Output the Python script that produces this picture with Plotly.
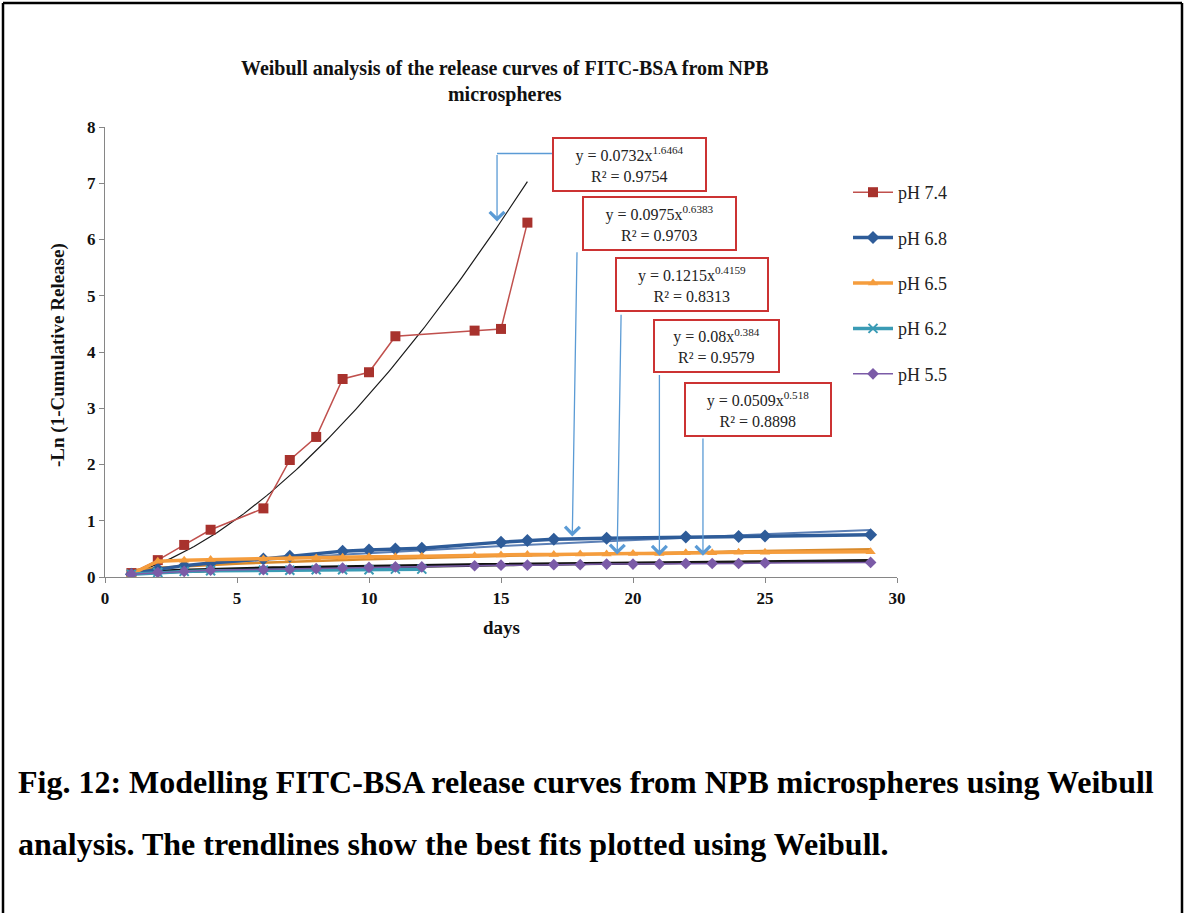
import plotly.graph_objects as go

# ---------------- data ----------------
days_74 = [1, 2, 3, 4, 6, 7, 8, 9, 10, 11, 14, 15, 16]
vals_74 = [0.07, 0.30, 0.57, 0.84, 1.22, 2.08, 2.49, 3.52, 3.64, 4.28, 4.38, 4.41, 6.30]

days_68 = [1, 2, 3, 4, 6, 7, 9, 10, 11, 12, 15, 16, 17, 19, 22, 24, 25, 29]
vals_68 = [0.05, 0.14, 0.20, 0.25, 0.32, 0.37, 0.46, 0.48, 0.50, 0.51, 0.62, 0.65, 0.67, 0.69, 0.71, 0.72, 0.73, 0.75]

days_65 = [1, 2, 3, 4, 6, 7, 8, 9, 10, 11, 12, 14, 15, 16, 17, 18, 19, 20, 21, 22, 23, 24, 25, 29]
vals_65 = [0.05, 0.28, 0.30, 0.31, 0.32, 0.33, 0.34, 0.35, 0.36, 0.36, 0.37, 0.38, 0.39, 0.40, 0.40, 0.41,
           0.41, 0.42, 0.42, 0.43, 0.43, 0.44, 0.44, 0.45]

days_62 = [1, 2, 3, 4, 6, 7, 8, 9, 10, 11, 12]
vals_62 = [0.05, 0.08, 0.10, 0.11, 0.12, 0.12, 0.13, 0.13, 0.13, 0.14, 0.14]

days_55 = [1, 2, 3, 4, 6, 7, 8, 9, 10, 11, 12, 14, 15, 16, 17, 18, 19, 20, 21, 22, 23, 24, 25, 29]
vals_55 = [0.05, 0.08, 0.10, 0.12, 0.13, 0.14, 0.15, 0.16, 0.17, 0.18, 0.18, 0.20, 0.21, 0.21, 0.22, 0.22,
           0.23, 0.23, 0.23, 0.24, 0.24, 0.24, 0.25, 0.26]

series_names = ["pH 7.4", "pH 6.8", "pH 6.5", "pH 6.2", "pH 5.5"]

# Weibull (power) trendline coefficients shown on the chart: y = a * x^b
fit_a = [0.0732, 0.0975, 0.1215, 0.08, 0.0509]
fit_b = [1.6464, 0.6383, 0.4159, 0.384, 0.518]
fit_r2 = ["0.9754", "0.9703", "0.8313", "0.9579", "0.8898"]
fit_a_txt = ["0.0732", "0.0975", "0.1215", "0.08", "0.0509"]
fit_b_txt = ["1.6464", "0.6383", "0.4159", "0.384", "0.518"]
fit_end = [16, 29, 29, 29, 29]

x_ticks = [0, 5, 10, 15, 20, 25, 30]
y_ticks = [0, 1, 2, 3, 4, 5, 6, 7, 8]

# ---------------- layout constants ----------------
W, H = 1185, 913
L, R, T, B = 105, 288, 127, 336
PW, PH = W - L - R, H - T - B
SERIF = "Liberation Serif"


def px(xp):
    return (xp - L) / PW


def py(yp):
    return (H - B - yp) / PH


fig = go.Figure()

data_sets = [(days_74, vals_74), (days_68, vals_68), (days_65, vals_65), (days_62, vals_62), (days_55, vals_55)]
line_cols = ["#C0504D", "#2E5C99", "#F59D3D", "#3A9BB5", "#7B5BA7"]
mk_cols = ["#A8322D", "#2E5C99", "#F59D3D", "#3A9BB5", "#7B5BA7"]
symbols = ["square", "diamond", "triangle-up", "x-thin", "diamond"]
msizes = [10, 10, 9, 9, 9]
lwidths = [1.5, 3.5, 3.5, 3.5, 1.5]
trend_cols = ["#1a1a1a", "#5B7FB5", "#D98A2B", "#111111", "#202020"]
trend_w = [1.2, 2.0, 2.5, 3.0, 2.0]

# trendlines
for i in range(5):
    n = 120
    xs = [1 + (fit_end[i] - 1) * k / n for k in range(n + 1)]
    ys = [fit_a[i] * x ** fit_b[i] for x in xs]
    fig.add_trace(go.Scatter(x=xs, y=ys, mode="lines", showlegend=False, hoverinfo="skip",
                             line=dict(color=trend_cols[i], width=trend_w[i])))

# data series
for i, (dx, dy) in enumerate(data_sets):
    mk = dict(symbol=symbols[i], size=msizes[i], color=mk_cols[i])
    if symbols[i] == "x-thin":
        mk["line"] = dict(color=mk_cols[i], width=2)
    fig.add_trace(go.Scatter(x=dx, y=dy, mode="lines+markers", name=series_names[i],
                             legendgroup=series_names[i],
                             line=dict(color=line_cols[i], width=lwidths[i]), marker=mk))

# ---------------- equation boxes & arrows ----------------
box_cx = [19.87, 21.0, 22.23, 23.16, 24.73]
box_cy = [7.34, 6.29, 5.20, 4.11, 2.98]
box_w = [147, 147, 146, 119, 140]
box_h = [47, 47, 47, 46, 47]
RED = "#CC3333"
for i in range(5):
    fig.add_annotation(x=box_cx[i], y=box_cy[i], xref="x", yref="y", showarrow=False,
                       text=f"y = {fit_a_txt[i]}x<sup>{fit_b_txt[i]}</sup><br>R² = {fit_r2[i]}",
                       font=dict(family=SERIF, size=16, color="#222"),
                       bgcolor="white", bordercolor=RED, borderwidth=2, borderpad=2,
                       width=box_w[i], height=box_h[i], align="center")

BLUE = "#5B9BD5"
# arrow 1 (elbow)
fig.add_shape(type="line", xref="x", yref="y", x0=16.93, y0=7.53, x1=14.85, y1=7.53,
              line=dict(color=BLUE, width=1.5))
arrow_tail = [(14.85, 7.53), (17.88, 5.80), (19.55, 4.69), (21.0, 3.62), (22.65, 2.49)]
arrow_tip = [(14.85, 6.32), (17.7, 0.72), (19.4, 0.40), (21.0, 0.38), (22.65, 0.38)]
for (tx, ty), (hx, hy) in zip(arrow_tail, arrow_tip):
    fig.add_annotation(x=hx, y=hy, ax=tx, ay=ty, xref="x", yref="y", axref="x", ayref="y",
                       text="", showarrow=True, arrowhead=4, arrowsize=2.2, arrowwidth=1.3,
                       arrowcolor=BLUE, standoff=0)

# ---------------- titles & caption ----------------
fig.add_annotation(x=px(505), y=py(55), xref="paper", yref="paper", showarrow=False,
                   text="Weibull analysis of the release curves of FITC-BSA from NPB<br>microspheres",
                   font=dict(family=SERIF, size=20, color="#111", weight="bold"), align="center")
fig.add_annotation(x=px(501), y=py(640), xref="paper", yref="paper", showarrow=False,
                   text="days", font=dict(family=SERIF, size=19, color="#111", weight="bold"))
fig.add_annotation(x=px(45), y=py(355), xref="paper", yref="paper", showarrow=False, textangle=-90,
                   text="-Ln (1-Cumulative Release)",
                   font=dict(family=SERIF, size=19, color="#111", weight="bold"))
fig.add_annotation(x=px(16), y=py(802), xref="paper", yref="paper", showarrow=False, xanchor="left",
                   text="Fig. 12: Modelling FITC-BSA release curves from NPB microspheres using Weibull",
                   font=dict(family=SERIF, size=32, color="#000", weight="bold"))
fig.add_annotation(x=px(16), y=py(864), xref="paper", yref="paper", showarrow=False, xanchor="left",
                   text="analysis. The trendlines show the best fits plotted using Weibull.",
                   font=dict(family=SERIF, size=32, color="#000", weight="bold"))

# outer frame (left, top, right)
for (x0, y0, x1, y1) in [(3, 3, 3, H + 5), (3, 3, W - 3, 3), (W - 3, 3, W - 3, H + 5)]:
    fig.add_shape(type="line", xref="paper", yref="paper", x0=px(x0), y0=py(y0), x1=px(x1), y1=py(y1),
                  line=dict(color="black", width=2.5))

axis_common = dict(showgrid=False, zeroline=False, showline=True, linecolor="#868686", linewidth=1.2,
                   ticks="outside", ticklen=5, tickcolor="#868686",
                   tickfont=dict(family=SERIF, size=17, color="#111", weight="bold"))
fig.update_xaxes(range=[0, 30], tickvals=x_ticks, **axis_common)
fig.update_yaxes(range=[0, 8], tickvals=y_ticks, **axis_common)

fig.update_layout(
    width=W, height=H, margin=dict(l=L, r=R, t=T, b=B, autoexpand=False),
    paper_bgcolor="white", plot_bgcolor="white",
    legend=dict(x=px(848), y=py(174), xanchor="left", yanchor="top",
                font=dict(family=SERIF, size=18, color="#222"), tracegroupgap=19,
                bgcolor="rgba(0,0,0,0)", itemwidth=40),
    showlegend=True,
)

fig.write_html("out.html")
